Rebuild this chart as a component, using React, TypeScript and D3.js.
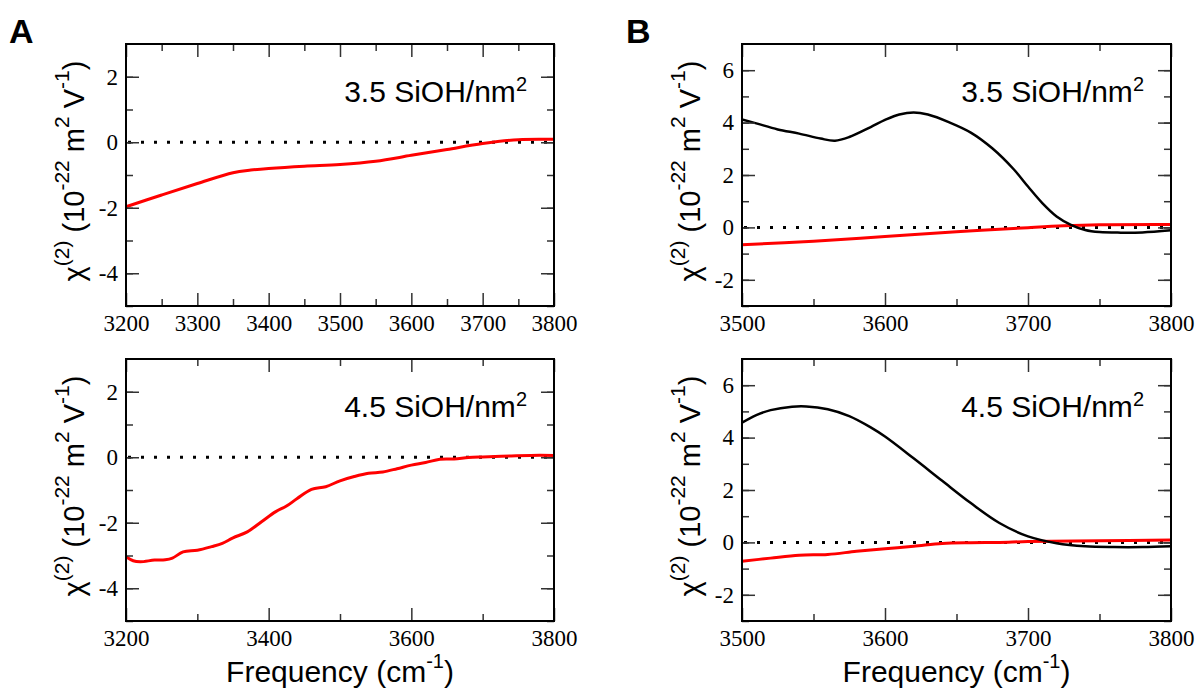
import React, { useEffect, useRef } from "react";
import * as d3 from "d3";

// panel A, 3.5 SiOH/nm2 : Im chi(2)
const freqA35 = [3200, 3250, 3300, 3350, 3375, 3400, 3450, 3500, 3550, 3600, 3650, 3700, 3750, 3800];
const imA35 = [-1.97, -1.61, -1.26, -0.93, -0.85, -0.8, -0.73, -0.68, -0.58, -0.4, -0.22, -0.04, 0.08, 0.09];

// panel A, 4.5 SiOH/nm2 : Im chi(2)
const freqA45 = [3200, 3210, 3220, 3240, 3255, 3265, 3280, 3300, 3320, 3335, 3350, 3370, 3390, 3410, 3425, 3440, 3460, 3480, 3500, 3520, 3540, 3560, 3580, 3600, 3620, 3640, 3660, 3680, 3700, 3740, 3780, 3800];
const imA45 = [-3.04, -3.16, -3.19, -3.14, -3.13, -3.08, -2.89, -2.84, -2.73, -2.63, -2.46, -2.28, -1.97, -1.66, -1.49, -1.26, -0.98, -0.9, -0.72, -0.59, -0.49, -0.45, -0.35, -0.24, -0.16, -0.06, -0.05, -0.01, 0.01, 0.04, 0.06, 0.05];

// panel B, 3.5 SiOH/nm2 : Re (black) and Im (red)
const freqB35Re = [3500, 3510, 3525, 3540, 3555, 3565, 3575, 3590, 3600, 3610, 3620, 3630, 3645, 3660, 3675, 3690, 3700, 3710, 3720, 3730, 3740, 3750, 3765, 3780, 3800];
const reB35 = [4.12, 3.97, 3.74, 3.58, 3.39, 3.31, 3.45, 3.83, 4.1, 4.31, 4.39, 4.31, 4.01, 3.62, 3.02, 2.22, 1.56, 0.93, 0.42, 0.1, -0.1, -0.18, -0.2, -0.19, -0.11];
const freqB35Im = [3500, 3550, 3600, 3650, 3700, 3725, 3750, 3800];
const imB35 = [-0.66, -0.53, -0.35, -0.17, -0.01, 0.06, 0.1, 0.11];

// panel B, 4.5 SiOH/nm2
const freqB45Re = [3500, 3510, 3520, 3535, 3545, 3560, 3575, 3590, 3600, 3620, 3640, 3660, 3680, 3700, 3720, 3740, 3760, 3780, 3800];
const reB45 = [4.57, 4.86, 5.05, 5.18, 5.19, 5.08, 4.82, 4.39, 4.04, 3.21, 2.35, 1.5, 0.74, 0.23, -0.03, -0.15, -0.18, -0.18, -0.15];
const freqB45Im = [3500, 3520, 3540, 3560, 3580, 3600, 3620, 3640, 3660, 3680, 3700, 3750, 3800];
const imB45 = [-0.72, -0.6, -0.49, -0.46, -0.34, -0.24, -0.15, -0.04, -0.01, 0, 0.03, 0.06, 0.09];

const xTicksA35 = [3200, 3300, 3400, 3500, 3600, 3700, 3800];
const xTicksA45 = [3200, 3400, 3600, 3800];
const xTicksB = [3500, 3600, 3700, 3800];
const yTicksA = [-4, -2, 0, 2];
const yTicksB = [-2, 0, 2, 4, 6];
const coverages = ["3.5", "4.5"];

const SANS = "'Liberation Sans', Arial, sans-serif";
const SERIF = "'Liberation Serif', 'Times New Roman', serif";

// text with superscripts: [text, isSup]
function richText(sel, parts, size, supSize, raise) {
  let shift = 0;
  parts.forEach(([t, sup]) => {
    const dy = sup ? -raise - shift : -shift;
    shift = sup ? -raise : 0;
    sel.append("tspan")
      .attr("dy", dy)
      .style("font-size", (sup ? supSize : size) + "px")
      .text(t);
  });
}

function drawPanel(svg, p) {
  const x = d3.scaleLinear().domain(p.xDomain).range([p.left, p.left + p.w]);
  const y = d3.scaleLinear().domain(p.yDomain).range([p.top + p.h, p.top]);
  const g = svg.append("g");

  g.append("line")
    .attr("x1", x(p.xDomain[0]) + 2).attr("x2", x(p.xDomain[1]))
    .attr("y1", y(0)).attr("y2", y(0))
    .attr("stroke", "#000").attr("stroke-width", 3)
    .attr("stroke-dasharray", "3,10");

  const line = d3.line()
    .x(d => x(d[0]))
    .y(d => y(d[1]))
    .curve(d3.curveCatmullRom.alpha(0.5));

  p.series.forEach(s => {
    g.append("path")
      .datum(d3.zip(s.x, s.y))
      .attr("d", line)
      .attr("fill", "none")
      .attr("stroke", s.color)
      .attr("stroke-width", s.width)
      .attr("stroke-linejoin", "round");
  });

  const axis = (ax, tr) => {
    const a = g.append("g").attr("transform", tr).call(ax);
    a.select(".domain").remove();
    a.attr("font-family", null).attr("font-size", null);
    a.selectAll("line").attr("stroke", "#333").attr("stroke-width", 1.5);
    a.selectAll("text")
      .style("font-family", SERIF).style("font-size", "23px").attr("fill", "#000");
  };
  const none = () => "";
  const bottom = p.top + p.h, right = p.left + p.w;

  axis(d3.axisBottom(x).tickValues(p.xMinor).tickSize(-7).tickFormat(none), `translate(0,${bottom})`);
  axis(d3.axisBottom(x).tickValues(p.xTicks).tickSize(-13).tickPadding(9).tickFormat(d => String(d)), `translate(0,${bottom})`);
  axis(d3.axisTop(x).tickValues(p.xMinor).tickSize(-7).tickFormat(none), `translate(0,${p.top})`);
  axis(d3.axisTop(x).tickValues(p.xTicks).tickSize(-13).tickFormat(none), `translate(0,${p.top})`);
  axis(d3.axisLeft(y).tickValues(p.yMinor).tickSize(-7).tickFormat(none), `translate(${p.left},0)`);
  axis(d3.axisLeft(y).tickValues(p.yTicks).tickSize(-13).tickPadding(8).tickFormat(d => String(d)), `translate(${p.left},0)`);
  axis(d3.axisRight(y).tickValues(p.yMinor).tickSize(-7).tickFormat(none), `translate(${right},0)`);
  axis(d3.axisRight(y).tickValues(p.yTicks).tickSize(-13).tickFormat(none), `translate(${right},0)`);

  g.append("rect")
    .attr("x", p.left).attr("y", p.top).attr("width", p.w).attr("height", p.h)
    .attr("fill", "none").attr("stroke", "#000").attr("stroke-width", 2);

  const ann = g.append("text")
    .attr("x", right - 27).attr("y", p.top + 58)
    .attr("text-anchor", "end")
    .style("font-family", SANS).attr("fill", "#000");
  richText(ann, [[p.label + " SiOH/nm", false], ["2", true]], 30, 20, 11);

  const yl = g.append("text")
    .attr("transform", `translate(${p.left - 42},${p.top + p.h / 2 - 4}) rotate(-90)`)
    .attr("text-anchor", "middle")
    .style("font-family", SANS).attr("fill", "#000");
  richText(yl, [["χ", false], ["(2)", true], [" (10", false], ["-22", true], [" m", false], ["2", true], [" V", false], ["-1", true], [")", false]], 29, 21, 15);

  if (p.xTitle) {
    const xl = g.append("text")
      .attr("x", p.left + p.w / 2).attr("y", bottom + 61)
      .attr("text-anchor", "middle")
      .style("font-family", SANS).attr("fill", "#000");
    richText(xl, [["Frequency (cm", false], ["-1", true], [")", false]], 30, 20, 14);
  }
}

export default function App() {
  const ref = useRef(null);

  useEffect(() => {
    document.body.style.margin = "0";
    const svg = d3.select(ref.current);
    svg.selectAll("*").remove();

    const cols = [126, 742];
    const rows = [44, 359];
    const w = 428, h = 262;

    const panels = [
      {
        left: cols[0], top: rows[0], w, h, label: coverages[0],
        xDomain: [3200, 3800], yDomain: [-5, 3],
        xTicks: xTicksA35, xMinor: d3.range(3250, 3800, 100),
        yTicks: yTicksA, yMinor: d3.range(-5, 3, 1),
        series: [{ x: freqA35, y: imA35, color: "#ff0000", width: 3 }],
      },
      {
        left: cols[0], top: rows[1], w, h, label: coverages[1], xTitle: true,
        xDomain: [3200, 3800], yDomain: [-5, 3],
        xTicks: xTicksA45, xMinor: d3.range(3300, 3800, 200),
        yTicks: yTicksA, yMinor: d3.range(-5, 3, 1),
        series: [{ x: freqA45, y: imA45, color: "#ff0000", width: 3 }],
      },
      {
        left: cols[1], top: rows[0], w: w + 1, h, label: coverages[0],
        xDomain: [3500, 3800], yDomain: [-3, 7],
        xTicks: xTicksB, xMinor: d3.range(3550, 3800, 100),
        yTicks: yTicksB, yMinor: d3.range(-3, 7, 1),
        series: [
          { x: freqB35Im, y: imB35, color: "#ff0000", width: 3 },
          { x: freqB35Re, y: reB35, color: "#000000", width: 2.5 },
        ],
      },
      {
        left: cols[1], top: rows[1], w: w + 1, h, label: coverages[1], xTitle: true,
        xDomain: [3500, 3800], yDomain: [-3, 7],
        xTicks: xTicksB, xMinor: d3.range(3550, 3800, 100),
        yTicks: yTicksB, yMinor: d3.range(-3, 7, 1),
        series: [
          { x: freqB45Im, y: imB45, color: "#ff0000", width: 3 },
          { x: freqB45Re, y: reB45, color: "#000000", width: 2.5 },
        ],
      },
    ];
    panels.forEach(p => drawPanel(svg, p));

    svg.append("text").attr("x", 9).attr("y", 43)
      .style("font-family", SANS).style("font-weight", "bold").style("font-size", "34px")
      .text("A");
    svg.append("text").attr("x", 626).attr("y", 43)
      .style("font-family", SANS).style("font-weight", "bold").style("font-size", "34px")
      .text("B");
  }, []);

  return <svg ref={ref} width={1199} height={693} style={{ display: "block", background: "#fff" }} />;
}
